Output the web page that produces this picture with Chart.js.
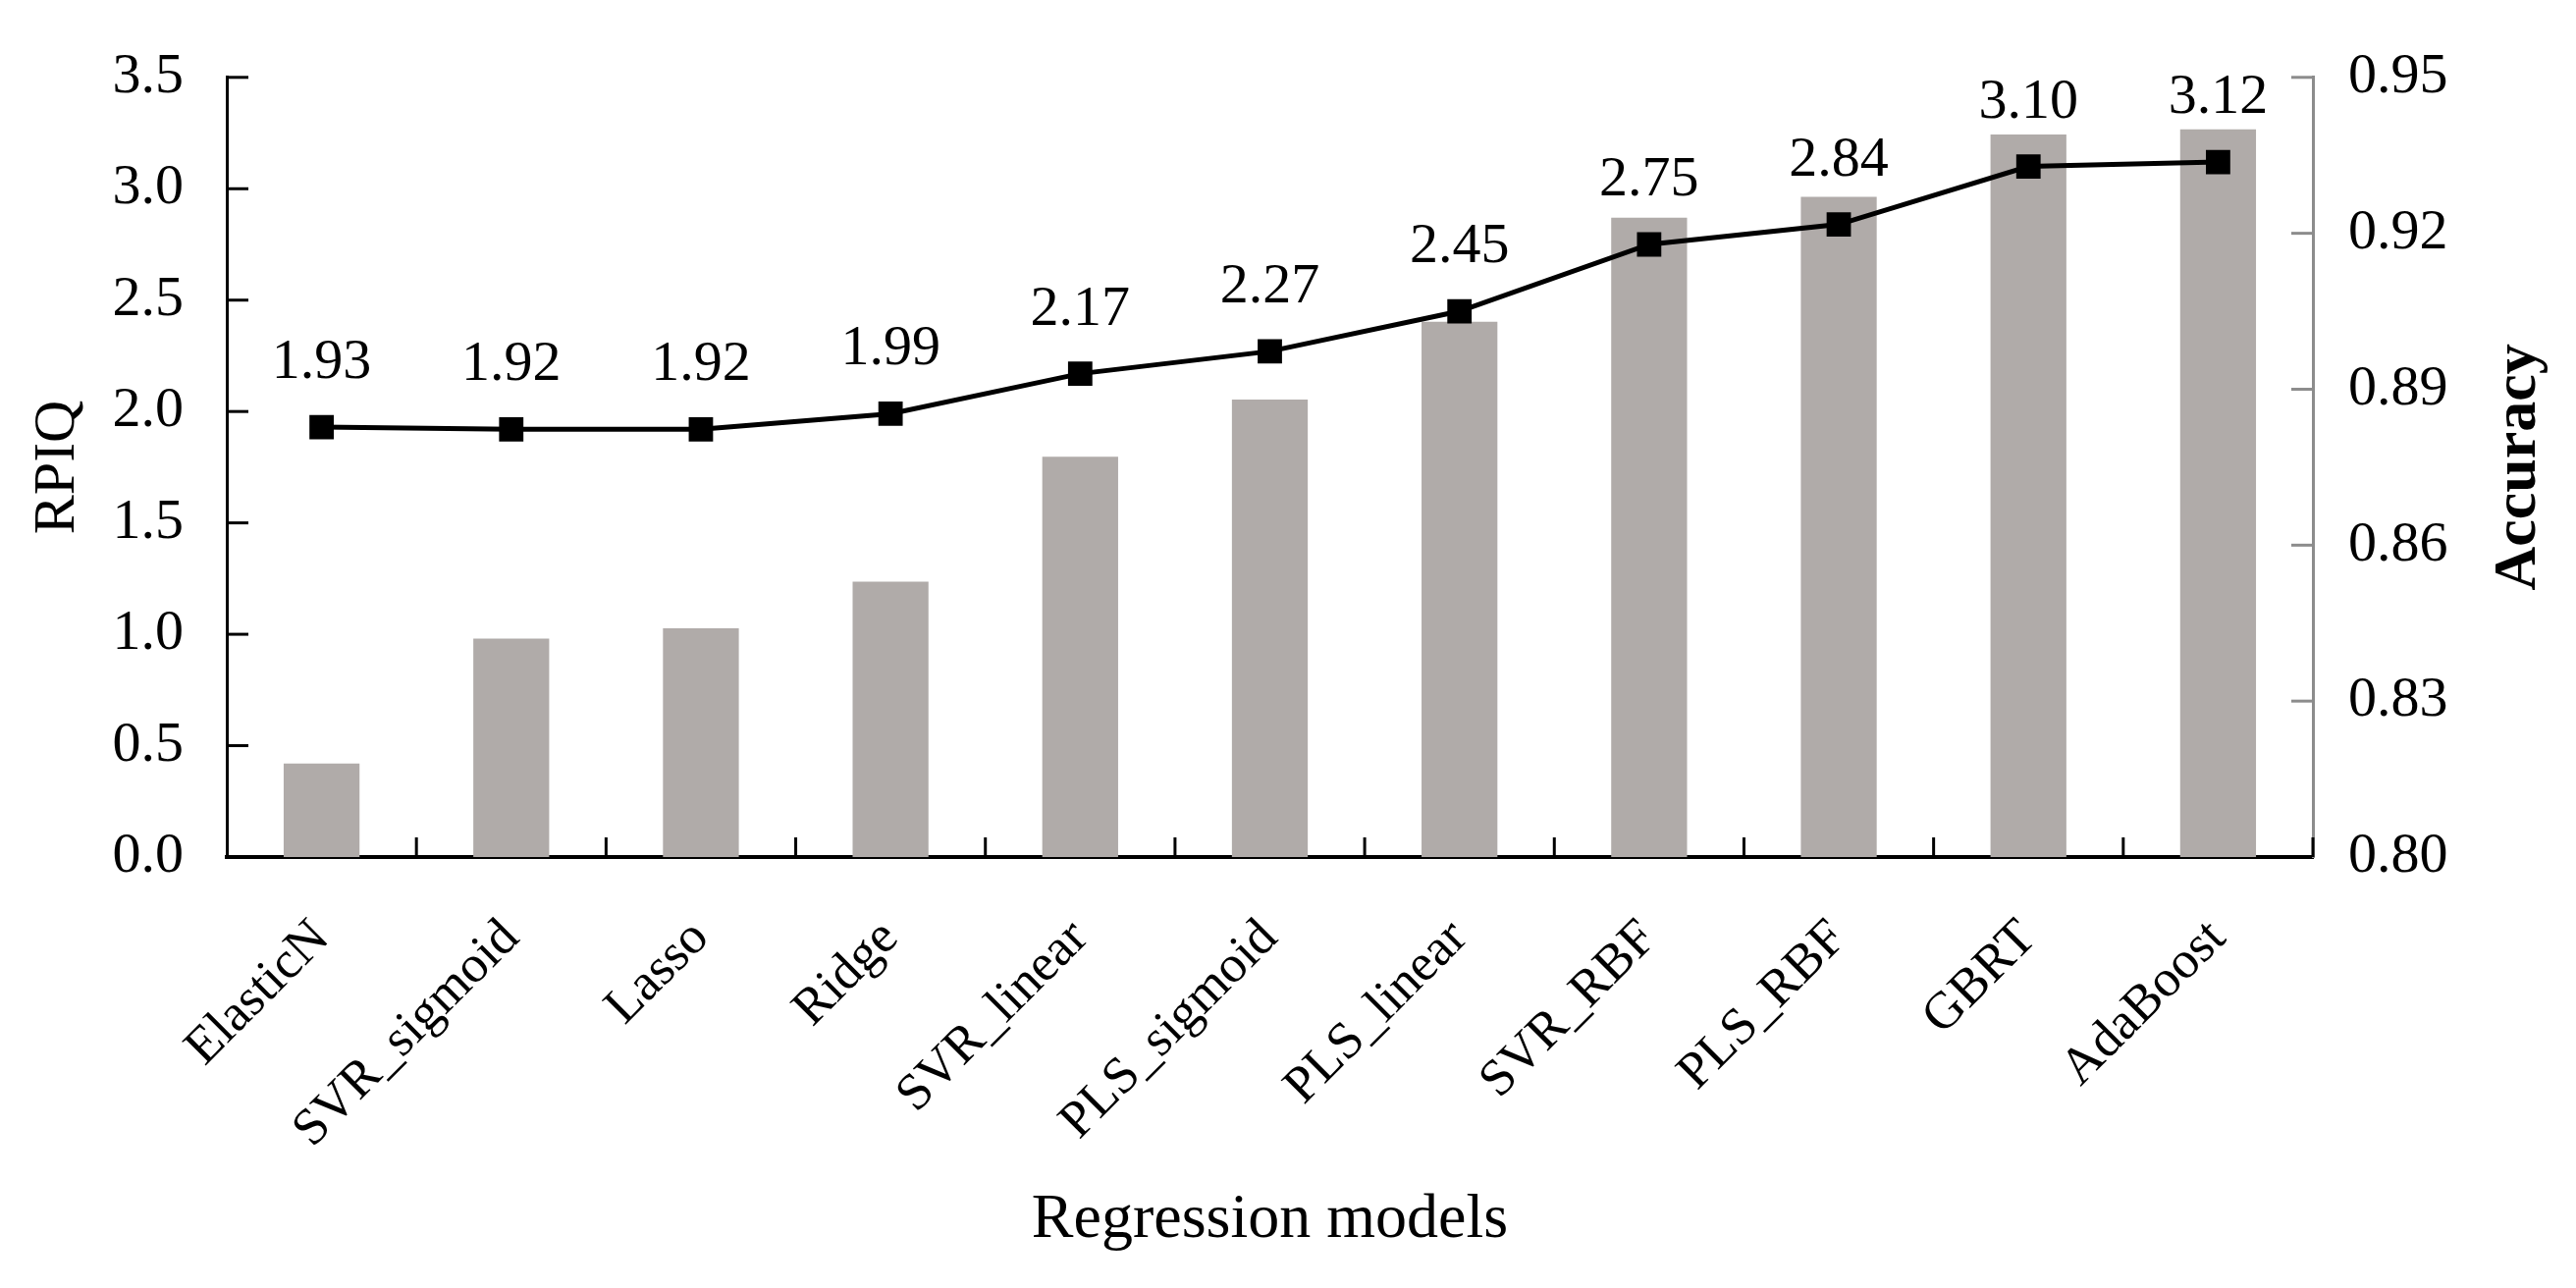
<!DOCTYPE html>
<html>
<head>
<meta charset="utf-8">
<script src="https://cdn.jsdelivr.net/npm/chart.js@4.4.1/dist/chart.umd.min.js"></script>
<style>
  html, body { margin: 0; padding: 0; background: #fff; }
  #wrap { width: 2624px; height: 1312px; }
</style>
</head>
<body>
<div id="wrap"><canvas id="myChart"></canvas></div>
<script>
// model names along the x axis
const models = ["ElasticN", "SVR_sigmoid", "Lasso", "Ridge", "SVR_linear", "PLS_sigmoid",
                "PLS_linear", "SVR_RBF", "PLS_RBF", "GBRT", "AdaBoost"];
// line, left axis
const rpiq = [1.93, 1.92, 1.92, 1.99, 2.17, 2.27, 2.45, 2.75, 2.84, 3.10, 3.12];
// bars, right axis
const accuracy = [0.818, 0.842, 0.844, 0.853, 0.877, 0.888, 0.903, 0.923, 0.927, 0.939, 0.940];
// tick labels
const rpiqTicks = [0, 0.5, 1.0, 1.5, 2.0, 2.5, 3.0, 3.5];
const accTicks = [0.80, 0.83, 0.86, 0.89, 0.92, 0.95];

const serif = "'Liberation Serif', 'Times New Roman', serif";

// ticks point inwards in the reference, so draw them by hand
const axisDeco = {
    id: "axisDeco",
    afterDatasetsDraw(chart) {
        const ctx = chart.ctx;
        const line = chart.getDatasetMeta(0);
        ctx.save();
        ctx.fillStyle = "#000";
        ctx.font = "58px " + serif;
        ctx.textAlign = "center";
        ctx.textBaseline = "alphabetic";
        line.data.forEach((pt, i) => {
            ctx.fillText(rpiq[i].toFixed(2), pt.x, pt.y - 50);
        });
        ctx.restore();
    },
    afterDraw(chart) {
        const ctx = chart.ctx;
        const { x, y, y1 } = chart.scales;
        const len = 22;
        ctx.save();
        // left
        ctx.strokeStyle = "#000";
        ctx.lineWidth = 3;
        y.ticks.forEach((t) => {
            if (t.value === 0) return;
            const py = y.getPixelForValue(t.value);
            ctx.beginPath();
            ctx.moveTo(y.right, py);
            ctx.lineTo(y.right + len, py);
            ctx.stroke();
        });
        // right
        ctx.strokeStyle = "#8c8c8c";
        y1.ticks.forEach((t) => {
            if (t.value === 0.8) return;
            const py = y1.getPixelForValue(t.value);
            ctx.beginPath();
            ctx.moveTo(y1.left, py);
            ctx.lineTo(y1.left - len, py);
            ctx.stroke();
        });
        // bottom, between categories
        ctx.strokeStyle = "#000";
        const step = x.getPixelForTick(1) - x.getPixelForTick(0);
        for (let i = 0; i < models.length; i++) {
            const px = x.getPixelForTick(i) + step / 2;
            ctx.beginPath();
            ctx.moveTo(px, x.top);
            ctx.lineTo(px, x.top - 20);
            ctx.stroke();
        }
        // right title reads bottom to top
        ctx.translate(2566, (y1.top + y1.bottom) / 2);
        ctx.rotate(-Math.PI / 2);
        ctx.fillStyle = "#000";
        ctx.font = "bold 62px " + serif;
        ctx.textAlign = "center";
        ctx.textBaseline = "middle";
        ctx.fillText("Accuracy", 0, 0);
        ctx.restore();
    },
};

new Chart(document.getElementById("myChart"), {
    data: {
        labels: models,
        datasets: [
            {
                type: "line",
                label: "RPIQ",
                data: rpiq,
                yAxisID: "y",
                borderColor: "#000",
                backgroundColor: "#000",
                borderWidth: 5,
                pointStyle: "rect",
                pointRadius: 14,
                pointHoverRadius: 14,
                tension: 0,
            },
            {
                type: "bar",
                label: "Accuracy",
                data: accuracy,
                yAxisID: "y1",
                backgroundColor: "#b0aba9",
                barPercentage: 0.4,
                categoryPercentage: 1.0,
            },
        ],
    },
    options: {
        responsive: true,
        maintainAspectRatio: false,
        devicePixelRatio: 1,
        animation: false,
        layout: { padding: { top: 61, left: 0, right: 0, bottom: 0 } },
        plugins: {
            legend: { display: false },
            tooltip: { enabled: false },
        },
        scales: {
            x: {
                offset: true,
                grid: { display: false, drawTicks: false },
                border: { display: true, color: "#000", width: 4 },
                ticks: {
                    color: "#000",
                    font: { family: serif, size: 53 },
                    maxRotation: 45,
                    minRotation: 45,
                    padding: 52,
                    autoSkip: false,
                },
                title: {
                    display: true,
                    text: "Regression models",
                    color: "#000",
                    font: { family: serif, size: 64 },
                    padding: { top: 0, bottom: 30 },
                },
                afterFit: (s) => { s.height = 439; },
            },
            y: {
                position: "left",
                min: 0,
                max: 3.5,
                afterBuildTicks: (s) => { s.ticks = rpiqTicks.map((v) => ({ value: v })); },
                grid: { display: false, drawTicks: false },
                border: { display: true, color: "#000", width: 3 },
                ticks: {
                    color: "#000",
                    font: { family: serif, size: 58 },
                    padding: 44,
                    callback: (v) => Number(v).toFixed(1),
                },
                title: {
                    display: true,
                    text: "RPIQ",
                    color: "#000",
                    font: { family: serif, size: 60 },
                    padding: { top: 23, bottom: 0 },
                },
                afterFit: (s) => { s.width = 231; },
            },
            y1: {
                position: "right",
                min: 0.80,
                max: 0.95,
                afterBuildTicks: (s) => { s.ticks = accTicks.map((v) => ({ value: v })); },
                grid: { display: false, drawTicks: false },
                border: { display: true, color: "#8c8c8c", width: 3 },
                ticks: {
                    color: "#000",
                    font: { family: serif, size: 58 },
                    padding: 36,
                    callback: (v) => Number(v).toFixed(2),
                },
                afterFit: (s) => { s.width = 268; },
            },
        },
    },
    plugins: [axisDeco],
});
</script>
</body>
</html>
